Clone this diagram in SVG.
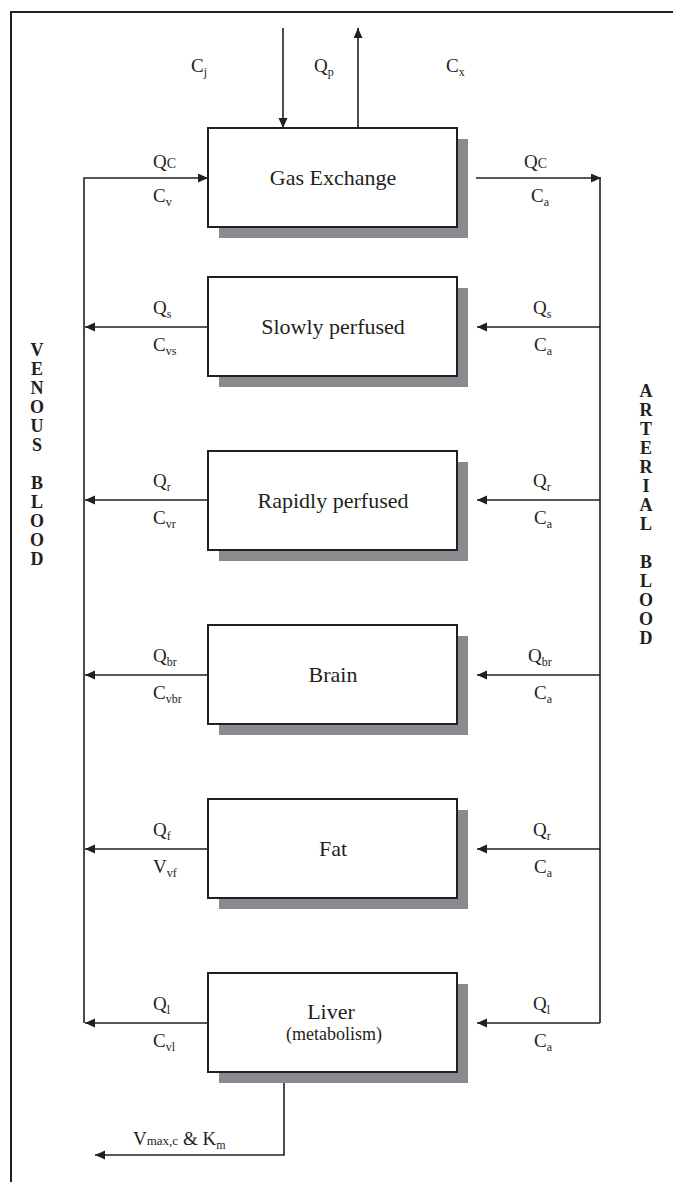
<svg xmlns="http://www.w3.org/2000/svg" width="673" height="1182" viewBox="0 0 673 1182">
  <style>
    .frame { fill: none; stroke: #231f20; stroke-width: 2; }
    .box { fill: #ffffff; stroke: #231f20; stroke-width: 2; }
    .shadow { fill: #8b8b8f; stroke: none; }
    .wire { fill: none; stroke: #231f20; stroke-width: 1.6; }
    .arrow { fill: none; stroke: #231f20; stroke-width: 1.6; marker-end: url(#head); }
    .title { font-family: "Liberation Serif", "Times New Roman", serif; font-size: 22px; fill: #231f20; text-anchor: middle; }
    .sub-title { font-family: "Liberation Serif", "Times New Roman", serif; font-size: 18px; fill: #231f20; text-anchor: middle; }
    .lbl { font-family: "Liberation Serif", "Times New Roman", serif; font-size: 19px; fill: #231f20; }
    .side { font-family: "Liberation Serif", "Times New Roman", serif; font-size: 18px; font-weight: bold; fill: #231f20; text-anchor: middle; }
  </style>
  <defs>
    <marker id="head" markerUnits="userSpaceOnUse" markerWidth="11" markerHeight="10" refX="10" refY="4.5" orient="auto">
      <path d="M0,0 L10,4.5 L0,9 z" fill="#231f20"/>
    </marker>
  </defs>

  <!-- page frame: top and left rules -->
  <path class="frame" d="M11,1182 L11,12 L673,12"/>

  <!-- connectors -->
  <g id="connectors">
    <!-- inspired / expired gas -->
    <line class="arrow" x1="283" y1="28" x2="283" y2="128"/>
    <line class="arrow" x1="358" y1="128" x2="358" y2="28"/>
    <!-- venous return into gas exchange -->
    <path class="arrow" d="M84,1023 L84,178 L208,178"/>
    <!-- arterial outflow from gas exchange -->
    <line class="arrow" x1="476" y1="178" x2="601" y2="178"/>
    <line class="wire" x1="600" y1="178" x2="600" y2="1023"/>
    <!-- tissue outflows to venous line -->
    <line class="arrow" x1="208" y1="327" x2="85" y2="327"/>
    <line class="arrow" x1="208" y1="500" x2="85" y2="500"/>
    <line class="arrow" x1="208" y1="675" x2="85" y2="675"/>
    <line class="arrow" x1="208" y1="849" x2="85" y2="849"/>
    <line class="arrow" x1="208" y1="1023" x2="85" y2="1023"/>
    <!-- arterial supply to tissues -->
    <line class="arrow" x1="600" y1="327" x2="477" y2="327"/>
    <line class="arrow" x1="600" y1="500" x2="477" y2="500"/>
    <line class="arrow" x1="600" y1="675" x2="477" y2="675"/>
    <line class="arrow" x1="600" y1="849" x2="477" y2="849"/>
    <line class="arrow" x1="600" y1="1023" x2="477" y2="1023"/>
    <!-- hepatic metabolism -->
    <path class="arrow" d="M284,1074 L284,1155 L95,1155"/>
  </g>

  <!-- compartments -->
  <g id="gas-exchange">
    <rect class="shadow" x="219" y="139" width="249" height="99"/>
    <rect class="box" x="208" y="128" width="249" height="99"/>
    <text class="title" x="333" y="185">Gas Exchange</text>
  </g>
  <g id="slowly-perfused">
    <rect class="shadow" x="219" y="288" width="249" height="99"/>
    <rect class="box" x="208" y="277" width="249" height="99"/>
    <text class="title" x="333" y="334">Slowly perfused</text>
  </g>
  <g id="rapidly-perfused">
    <rect class="shadow" x="219" y="462" width="249" height="99"/>
    <rect class="box" x="208" y="451" width="249" height="99"/>
    <text class="title" x="333" y="508">Rapidly perfused</text>
  </g>
  <g id="brain">
    <rect class="shadow" x="219" y="636" width="249" height="99"/>
    <rect class="box" x="208" y="625" width="249" height="99"/>
    <text class="title" x="333" y="682">Brain</text>
  </g>
  <g id="fat">
    <rect class="shadow" x="219" y="810" width="249" height="99"/>
    <rect class="box" x="208" y="799" width="249" height="99"/>
    <text class="title" x="333" y="856">Fat</text>
  </g>
  <g id="liver">
    <rect class="shadow" x="219" y="984" width="249" height="99"/>
    <rect class="box" x="208" y="973" width="249" height="99"/>
    <text class="title" x="331" y="1019">Liver</text>
    <text class="sub-title" x="334" y="1040">(metabolism)</text>
  </g>

  <!-- flow and concentration labels -->
  <g id="labels">
    <text class="lbl" x="191" y="72">C<tspan font-size="12" dy="4">j</tspan></text>
    <text class="lbl" x="314" y="72">Q<tspan font-size="12" dy="4">p</tspan></text>
    <text class="lbl" x="446" y="72">C<tspan font-size="12" dy="4">x</tspan></text>

    <text class="lbl" x="153" y="168">Q<tspan font-size="14">C</tspan></text>
    <text class="lbl" x="153" y="202">C<tspan font-size="12" dy="4">v</tspan></text>
    <text class="lbl" x="524" y="168">Q<tspan font-size="14">C</tspan></text>
    <text class="lbl" x="531" y="202">C<tspan font-size="12" dy="4">a</tspan></text>

    <text class="lbl" x="153" y="314">Q<tspan font-size="12" dy="4">s</tspan></text>
    <text class="lbl" x="153" y="351">C<tspan font-size="12" dy="4">vs</tspan></text>
    <text class="lbl" x="533" y="314">Q<tspan font-size="12" dy="4">s</tspan></text>
    <text class="lbl" x="534" y="351">C<tspan font-size="12" dy="4">a</tspan></text>

    <text class="lbl" x="153" y="487">Q<tspan font-size="12" dy="4">r</tspan></text>
    <text class="lbl" x="153" y="524">C<tspan font-size="12" dy="4">vr</tspan></text>
    <text class="lbl" x="533" y="487">Q<tspan font-size="12" dy="4">r</tspan></text>
    <text class="lbl" x="534" y="524">C<tspan font-size="12" dy="4">a</tspan></text>

    <text class="lbl" x="153" y="662">Q<tspan font-size="12" dy="4">br</tspan></text>
    <text class="lbl" x="153" y="699">C<tspan font-size="12" dy="4">vbr</tspan></text>
    <text class="lbl" x="528" y="662">Q<tspan font-size="12" dy="4">br</tspan></text>
    <text class="lbl" x="534" y="699">C<tspan font-size="12" dy="4">a</tspan></text>

    <text class="lbl" x="153" y="836">Q<tspan font-size="12" dy="4">f</tspan></text>
    <text class="lbl" x="153" y="873">V<tspan font-size="12" dy="4">vf</tspan></text>
    <text class="lbl" x="533" y="836">Q<tspan font-size="12" dy="4">r</tspan></text>
    <text class="lbl" x="534" y="873">C<tspan font-size="12" dy="4">a</tspan></text>

    <text class="lbl" x="153" y="1010">Q<tspan font-size="12" dy="4">l</tspan></text>
    <text class="lbl" x="153" y="1047">C<tspan font-size="12" dy="4">vl</tspan></text>
    <text class="lbl" x="533" y="1010">Q<tspan font-size="12" dy="4">l</tspan></text>
    <text class="lbl" x="534" y="1047">C<tspan font-size="12" dy="4">a</tspan></text>

    <text class="lbl" x="133" y="1145">V<tspan font-size="13">max,c</tspan> &amp; K<tspan font-size="12" dy="4">m</tspan></text>
  </g>

  <!-- vertical blood-pool captions -->
  <g id="venous-blood">
    <text class="side" x="37" y="356">V</text>
    <text class="side" x="37" y="375">E</text>
    <text class="side" x="37" y="394">N</text>
    <text class="side" x="37" y="413">O</text>
    <text class="side" x="37" y="432">U</text>
    <text class="side" x="37" y="451">S</text>
    <text class="side" x="37" y="489">B</text>
    <text class="side" x="37" y="508">L</text>
    <text class="side" x="37" y="527">O</text>
    <text class="side" x="37" y="546">O</text>
    <text class="side" x="37" y="565">D</text>
  </g>
  <g id="arterial-blood">
    <text class="side" x="646" y="397">A</text>
    <text class="side" x="646" y="416">R</text>
    <text class="side" x="646" y="435">T</text>
    <text class="side" x="646" y="454">E</text>
    <text class="side" x="646" y="473">R</text>
    <text class="side" x="646" y="492">I</text>
    <text class="side" x="646" y="511">A</text>
    <text class="side" x="646" y="530">L</text>
    <text class="side" x="646" y="568">B</text>
    <text class="side" x="646" y="587">L</text>
    <text class="side" x="646" y="606">O</text>
    <text class="side" x="646" y="625">O</text>
    <text class="side" x="646" y="644">D</text>
  </g>
</svg>
